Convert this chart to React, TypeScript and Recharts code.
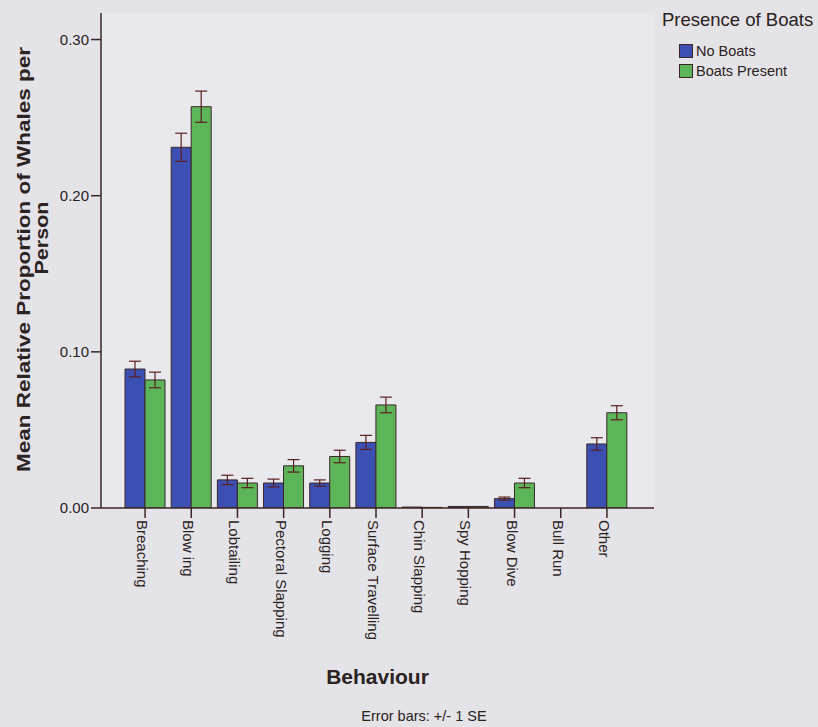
import { BarChart, Bar, XAxis, YAxis, CartesianGrid, ErrorBar } from 'recharts';

const categories = [
  'Breaching',
  'Blow ing',
  'Lobtailing',
  'Pectoral Slapping',
  'Logging',
  'Surface Travelling',
  'Chin Slapping',
  'Spy Hopping',
  'Blow Dive',
  'Bull Run',
  'Other',
];

const noBoats = [0.089, 0.231, 0.018, 0.016, 0.016, 0.042, 0.0006, 0.001, 0.006, 0, 0.041];
const noBoatsSE = [0.005, 0.009, 0.003, 0.0025, 0.002, 0.0045, 0, 0, 0.001, 0, 0.004];
const boatsPresent = [0.082, 0.257, 0.016, 0.027, 0.033, 0.066, 0.0004, 0.001, 0.016, 0, 0.061];
const boatsPresentSE = [0.005, 0.01, 0.003, 0.004, 0.004, 0.005, 0, 0, 0.003, 0, 0.0045];

const yTicks = [0, 0.1, 0.2, 0.3];

const data = categories.map((name, i) => ({
  name,
  noBoats: noBoats[i],
  noBoatsSE: noBoatsSE[i],
  boatsPresent: boatsPresent[i],
  boatsPresentSE: boatsPresentSE[i],
}));

const FONT = '"Liberation Sans", Arial, sans-serif';
const INK = '#2b2222';
const EDGE = '#3a2626';
const BLUE = '#3c50b4';
const GREEN = '#5db55a';

function XTick({ x, y, payload }: any) {
  return (
    <g transform={`translate(${x},${y})`}>
      <text transform="rotate(90)" textAnchor="start" dy={8} fontSize={15} fill={INK} fontFamily={FONT}>
        {payload.value}
      </text>
    </g>
  );
}

function YLabel() {
  return (
    <g fontFamily={FONT} fontSize={19} fontWeight="bold" fill={INK}>
      <text
        transform="translate(30,259.5) rotate(-90)"
        textAnchor="middle"
        textLength={425}
        lengthAdjust="spacingAndGlyphs"
      >
        Mean Relative Proportion of Whales per
      </text>
      <text
        transform="translate(48,238) rotate(-90)"
        textAnchor="middle"
        textLength={73}
        lengthAdjust="spacingAndGlyphs"
      >
        Person
      </text>
    </g>
  );
}

function LegendBox() {
  const items = [
    { label: 'No Boats', color: BLUE },
    { label: 'Boats Present', color: GREEN },
  ];
  return (
    <div style={{ position: 'absolute', top: 9, left: 662, fontFamily: FONT, color: INK }}>
      <div style={{ fontSize: 18.5, lineHeight: '22px', whiteSpace: 'nowrap' }}>Presence of Boats</div>
      <div style={{ marginTop: 10, marginLeft: 17 }}>
        {items.map((it) => (
          <div
            key={it.label}
            style={{ display: 'flex', alignItems: 'center', height: 20, fontSize: 14.5, whiteSpace: 'nowrap' }}
          >
            <span
              style={{
                display: 'inline-block',
                width: 12,
                height: 12,
                background: it.color,
                border: `1px solid ${EDGE}`,
                marginRight: 3,
              }}
            />
            {it.label}
          </div>
        ))}
      </div>
    </div>
  );
}

export default function App() {
  return (
    <div style={{ position: 'absolute', top: 0, left: 0, width: 818, height: 727, background: '#e4e3e7' }}>
      <BarChart
        width={818}
        height={727}
        data={data}
        margin={{ top: 13, right: 164, bottom: 0, left: 0 }}
        barCategoryGap={3}
        barGap={0}
      >
        <CartesianGrid horizontal={false} vertical={false} fill="#e9e8ec" />
        <XAxis
          dataKey="name"
          height={219}
          padding={{ left: 21, right: 24 }}
          interval={0}
          tickSize={10}
          tickLine={{ stroke: EDGE, strokeWidth: 1.5 }}
          axisLine={{ stroke: EDGE, strokeWidth: 1.5 }}
          tick={<XTick />}
          label={{
            value: 'Behaviour',
            position: 'insideBottom',
            offset: 43,
            style: { fontFamily: FONT, fontSize: 21, fontWeight: 'bold', fill: INK },
          }}
        />
        <XAxis
          xAxisId="top"
          dataKey="name"
          orientation="top"
          height={0}
          tick={false}
          tickLine={false}
          axisLine={{ stroke: EDGE, strokeWidth: 1.5 }}
        />
        <YAxis
          width={101}
          domain={[0, 0.317]}
          ticks={yTicks}
          tickFormatter={(v: number) => v.toFixed(2)}
          tickSize={10}
          tickMargin={2}
          tickLine={{ stroke: EDGE, strokeWidth: 1.5 }}
          axisLine={{ stroke: EDGE, strokeWidth: 1.5 }}
          tick={{ fontSize: 15, fill: INK, fontFamily: FONT }}
          label={<YLabel />}
          allowDataOverflow
        />
        <YAxis
          yAxisId="right"
          orientation="right"
          width={0}
          domain={[0, 0.317]}
          tick={false}
          tickLine={false}
          axisLine={{ stroke: EDGE, strokeWidth: 1.5 }}
        />
        <Bar dataKey="noBoats" name="No Boats" fill={BLUE} stroke={EDGE} strokeWidth={1} isAnimationActive={false}>
          <ErrorBar dataKey="noBoatsSE" width={6} stroke="#5a1f1f" strokeWidth={1.2} />
        </Bar>
        <Bar dataKey="boatsPresent" name="Boats Present" fill={GREEN} stroke={EDGE} strokeWidth={1} isAnimationActive={false}>
          <ErrorBar dataKey="boatsPresentSE" width={6} stroke="#5a1f1f" strokeWidth={1.2} />
        </Bar>
      </BarChart>
      <LegendBox />
      <div
        style={{
          position: 'absolute',
          left: 0,
          width: 848,
          top: 708,
          textAlign: 'center',
          fontFamily: FONT,
          fontSize: 14.5,
          color: INK,
        }}
      >
        Error bars: +/- 1 SE
      </div>
    </div>
  );
}
